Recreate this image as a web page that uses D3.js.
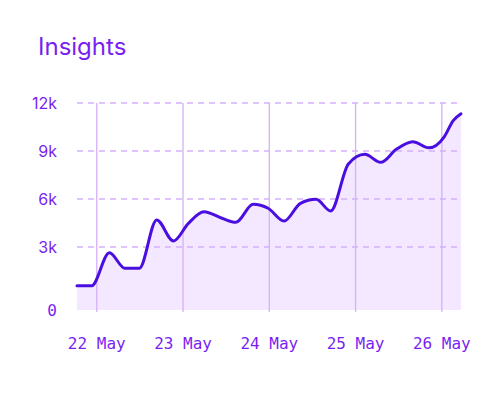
<!DOCTYPE html>
<html>
<head>
<meta charset="utf-8">
<script src="https://cdn.jsdelivr.net/npm/d3@7"></script>
<style>
  body { margin: 0; background: #fff; }
  svg { display: block; }
</style>
</head>
<body>
<svg id="chart"></svg>
<script>
// timestamps of each reading, and the running total at that time
const times = [
    '2024-05-21T18:30', '2024-05-21T22:35', '2024-05-22T03:30', '2024-05-22T07:50',
    '2024-05-22T11:50', '2024-05-22T16:40', '2024-05-22T21:20', '2024-05-23T01:30',
    '2024-05-23T05:50', '2024-05-23T10:50', '2024-05-23T14:40', '2024-05-23T19:30',
    '2024-05-23T23:40', '2024-05-24T04:05', '2024-05-24T08:40', '2024-05-24T13:00',
    '2024-05-24T17:05', '2024-05-24T22:00', '2024-05-25T02:35', '2024-05-25T07:00',
    '2024-05-25T11:25', '2024-05-25T15:55', '2024-05-25T20:25', '2024-05-26T00:40',
    '2024-05-26T03:10', '2024-05-26T05:20'
];
const values = [
    580, 580, 2640, 1670, 1670, 4690, 3380, 4480,
    5200, 4800, 4540, 5670, 5420, 4620, 5730, 5980,
    5250, 8190, 8790, 8290, 9120, 9580, 9200, 9890,
    10900, 11330
];
const yTicks = [3000, 6000, 9000, 12000];
const xTicks = ['2024-05-22', '2024-05-23', '2024-05-24', '2024-05-25', '2024-05-26'];

const width = 500;
const height = 397;
const plotLeft = 77, plotRight = 461, plotTop = 103, plotBottom = 310;

const parse = d3.timeParse('%Y-%m-%dT%H:%M');
const parseDay = d3.timeParse('%Y-%m-%d');
const data = times.map((t, i) => ({ date: parse(t), value: values[i] }));

const svg = d3.select('#chart')
    .attr('width', width)
    .attr('height', height);

const x = d3.scaleTime()
    .domain([data[0].date, data[data.length - 1].date])
    .range([plotLeft, plotRight]);

// gridlines are 48px apart; zero sits a little above the plot floor
const y = d3.scaleLinear()
    .domain([0, 12000])
    .range([295, plotTop]);

svg.append('text')
    .text('Insights')
    .attr('x', 38)
    .attr('y', 55)
    .attr('font-family', 'Inter, sans-serif')
    .attr('font-size', '24px')
    .attr('fill', '#7a1ff2');

// filled area under the line
const area = d3.area()
    .x(d => x(d.date))
    .y0(plotBottom)
    .y1(d => y(d.value))
    .curve(d3.curveMonotoneX);

svg.append('path')
    .datum(data)
    .attr('d', area)
    .attr('fill', '#f3e8ff');

// horizontal dashed grid
svg.append('g')
    .selectAll('line')
    .data(yTicks)
    .enter()
    .append('line')
    .attr('x1', plotLeft)
    .attr('x2', plotRight)
    .attr('y1', d => y(d))
    .attr('y2', d => y(d))
    .attr('stroke', '#d4b0fb')
    .attr('stroke-width', 1.3)
    .attr('stroke-dasharray', '6,5');

// vertical day lines
svg.append('g')
    .selectAll('line')
    .data(xTicks)
    .enter()
    .append('line')
    .attr('x1', d => x(parseDay(d)))
    .attr('x2', d => x(parseDay(d)))
    .attr('y1', plotTop)
    .attr('y2', plotBottom + 2)
    .attr('stroke', '#d4b0fb')
    .attr('stroke-width', 1.3);

svg.append('path')
    .datum(data)
    .attr('d', d3.line()
        .x(d => x(d.date))
        .y(d => y(d.value))
        .curve(d3.curveMonotoneX))
    .attr('fill', 'none')
    .attr('stroke', '#4a0fe0')
    .attr('stroke-width', 3)
    .attr('stroke-linejoin', 'round')
    .attr('stroke-linecap', 'round');

// y labels
svg.append('g')
    .selectAll('text')
    .data(yTicks)
    .enter()
    .append('text')
    .text(d => d3.format('~s')(d))
    .attr('x', 57)
    .attr('y', d => y(d))
    .attr('dy', '0.35em')
    .attr('text-anchor', 'end')
    .attr('font-family', 'Inter, sans-serif')
    .attr('font-size', '16px')
    .attr('fill', '#7a1ff2');

svg.append('text')
    .text('0')
    .attr('x', 57)
    .attr('y', plotBottom)
    .attr('dy', '0.35em')
    .attr('text-anchor', 'end')
    .attr('font-family', '"DejaVu Sans Mono", monospace')
    .attr('font-size', '16px')
    .attr('fill', '#7a1ff2');

// x labels
svg.append('g')
    .selectAll('text')
    .data(xTicks)
    .enter()
    .append('text')
    .text(d => d3.timeFormat('%-d %b')(parseDay(d)))
    .attr('x', d => x(parseDay(d)))
    .attr('y', 349)
    .attr('text-anchor', 'middle')
    .attr('font-family', '"DejaVu Sans Mono", monospace')
    .attr('font-size', '16px')
    .attr('fill', '#7a1ff2');
</script>
</body>
</html>
